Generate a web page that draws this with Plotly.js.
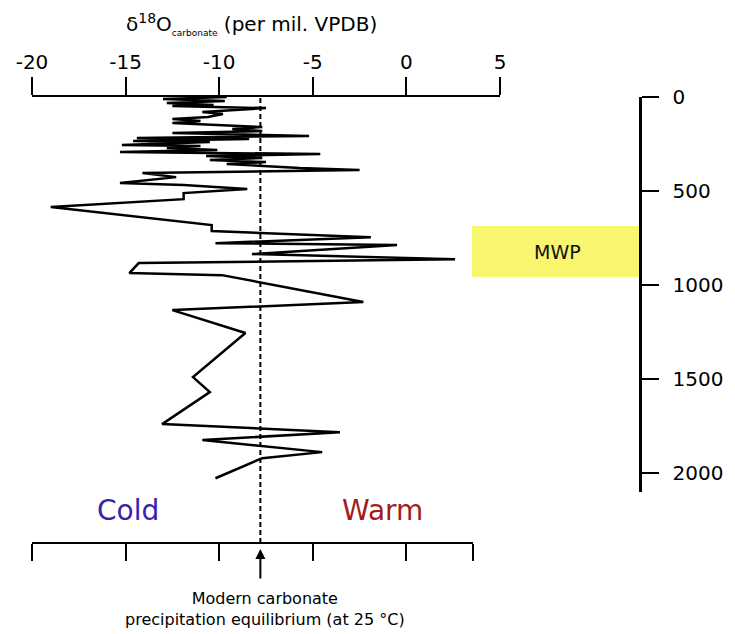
<!DOCTYPE html>
<html>
<head>
<meta charset="utf-8">
<script src="https://cdn.plot.ly/plotly-3.0.1.min.js"></script>
<style>html,body{margin:0;padding:0;background:#fff;}#chart{width:735px;height:634px;}</style>
</head>
<body>
<div id="chart"></div>
<script>
// Age (years BP) down the core and oxygen isotope values (per mil VPDB)
const ages = [0,11,21,32,43,48,59,80,90,106,117,128,138,160,170,181,191,207,218,223,234,239,255,261,271,282,293,303,314,324,335,346,356,367,378,388,404,426,457,468,489,511,543,585,681,713,745,777,787,835,862,883,936,947,1090,1133,1255,1489,1569,1739,1782,1824,1888,1920,2027];
const d18O = [-9.6,-13.0,-9.7,-12.8,-10.3,-12.5,-7.5,-10.9,-9.8,-10.6,-12.5,-11.0,-12.5,-7.7,-9.3,-7.7,-12.5,-5.2,-14.4,-8.4,-14.6,-10.5,-15.2,-11.0,-12.8,-10.1,-15.3,-4.6,-10.7,-7.7,-10.5,-7.5,-9.6,-7.7,-5.7,-2.5,-14.1,-12.3,-15.3,-11.9,-8.5,-11.9,-11.9,-19.0,-10.4,-10.4,-1.9,-10.2,-0.5,-8.25,2.6,-14.3,-14.8,-9.85,-2.3,-12.5,-8.6,-11.4,-10.5,-13.05,-3.55,-10.9,-4.5,-7.7,-10.2];

const topTickVals = [-20,-15,-10,-5,0,5];
const topTickText = ['-20','-15','-10','-5','0','5'];
const bottomTickVals = [-20,-15,-10,-5,0,3.56];
const ageTickVals = [0,500,1000,1500,2000];
const equilibrium = -7.8;          // modern carbonate precipitation equilibrium
const mwpStart = 686, mwpEnd = 957; // Medieval Warm Period (years BP)

const font = 'DejaVu Sans, Verdana, sans-serif';
const W = 735, H = 634;
const px = v => v / W;
const py = v => 1 - v / H;

const traces = [
  {x: d18O, y: ages, xaxis: 'x', yaxis: 'y', type: 'scatter', mode: 'lines',
   line: {color: '#000', width: 2.5}, showlegend: false, hoverinfo: 'x+y'},
  {x: [], y: [], xaxis: 'x2', yaxis: 'y', type: 'scatter', mode: 'lines', showlegend: false, hoverinfo: 'skip'}
];

const ann = (o) => Object.assign({xanchor: 'center', yanchor: 'middle', showarrow: false}, o);

const layout = {
  width: W, height: H,
  margin: {l: 0, r: 0, t: 0, b: 0},
  paper_bgcolor: '#fff', plot_bgcolor: 'rgba(0,0,0,0)',
  font: {family: font, color: '#000'},
  showlegend: false,
  xaxis: {
    domain: [px(32), px(500)], range: [-20, 5], side: 'top', anchor: 'y',
    showline: true, linecolor: '#000', linewidth: 2,
    ticks: 'outside', ticklen: 18, tickwidth: 2, tickcolor: '#000',
    tickvals: topTickVals, ticktext: topTickText,
    tickfont: {family: font, size: 20, color: '#000'},
    showgrid: false, zeroline: false, fixedrange: true
  },
  xaxis2: {
    domain: [px(32), px(473)], range: [-20, 3.56], side: 'bottom', anchor: 'free', position: py(543),
    showline: true, linecolor: '#000', linewidth: 2,
    ticks: 'outside', ticklen: 17, tickwidth: 2, tickcolor: '#000',
    tickvals: bottomTickVals, showticklabels: false,
    showgrid: false, zeroline: false, fixedrange: true
  },
  yaxis: {
    domain: [py(492), py(97)], range: [2100, 0], side: 'right', anchor: 'free', position: px(640),
    showline: true, linecolor: '#000', linewidth: 2.5,
    ticks: 'outside', ticklen: 17, tickwidth: 2, tickcolor: '#000',
    tickvals: ageTickVals, ticklabelstandoff: 10,
    tickfont: {family: font, size: 20, color: '#000'},
    showgrid: false, zeroline: false, fixedrange: true
  },
  shapes: [
    {type: 'rect', xref: 'paper', yref: 'y', x0: px(472), x1: px(639), y0: mwpStart, y1: mwpEnd,
     fillcolor: '#f8f56e', line: {width: 0}, layer: 'below'},
    {type: 'line', xref: 'x', yref: 'paper', x0: equilibrium, x1: equilibrium, y0: py(543), y1: py(97),
     line: {color: '#000', width: 2, dash: '5px,3px'}}
  ],
  annotations: [
    ann({xref: 'paper', yref: 'paper', x: px(251), y: py(24),
     text: 'δ<sup>18</sup>O<sub><span style="font-size:9px">carbonate</span></sub> (per mil. VPDB)',
     font: {family: font, size: 20, color: '#000'}}),
    ann({xref: 'paper', yref: 'y', x: px(557), y: (mwpStart + mwpEnd) / 2,
     text: 'MWP', font: {family: font, size: 19, color: '#111'}}),
    ann({xref: 'paper', yref: 'paper', x: px(128), y: py(510),
     text: 'Cold', font: {family: font, size: 28, color: '#3a22b0'}}),
    ann({xref: 'paper', yref: 'paper', x: px(382), y: py(510),
     text: 'Warm', font: {family: font, size: 28, color: '#a51b1b'}}),
    {xref: 'x', yref: 'paper', x: equilibrium, y: py(549), text: '', showarrow: true,
     arrowhead: 2, arrowsize: 1, arrowwidth: 2, arrowcolor: '#000', ax: 0, ay: 31},
    ann({xref: 'paper', yref: 'paper', x: px(265), y: py(609),
     text: 'Modern carbonate<br>precipitation equilibrium (at 25 °C)',
     font: {family: font, size: 16, color: '#000'}})
  ]
};

Plotly.newPlot('chart', traces, layout, {displayModeBar: false, staticPlot: true});
</script>
</body>
</html>
